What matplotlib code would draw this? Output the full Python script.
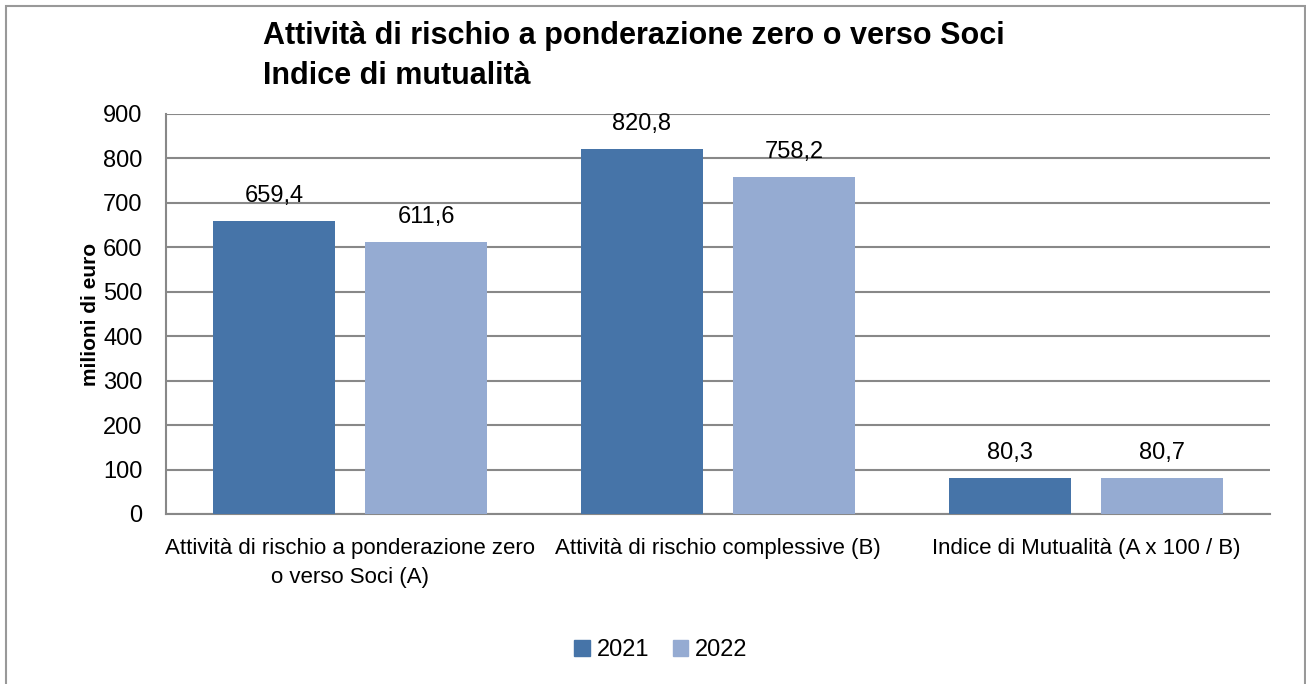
import matplotlib
matplotlib.use("Agg")
import matplotlib.pyplot as plt
from matplotlib.patches import Rectangle, Patch
import numpy as np

plt.rcParams['font.family'] = ['Liberation Sans', 'DejaVu Sans']

categories = ["Attività di rischio a ponderazione zero\no verso Soci (A)",
              "Attività di rischio complessive (B)",
              "Indice di Mutualità (A x 100 / B)"]
series_names = ["2021", "2022"]
values_2021 = [659.4, 820.8, 80.3]
values_2022 = [611.6, 758.2, 80.7]
labels_2021 = ["659,4", "820,8", "80,3"]
labels_2022 = ["611,6", "758,2", "80,7"]
yticks = [0, 100, 200, 300, 400, 500, 600, 700, 800, 900]

c1 = "#4674A8"
c2 = "#95ABD2"
grid_c = "#888888"

W, H = 1306, 684
fig = plt.figure(figsize=(W / 100, H / 100), dpi=100)
ax = fig.add_axes([166 / W, 1 - 514 / H, 1104 / W, 400 / H])

x = np.arange(len(categories))
bw = 0.33
off = 0.207
b1 = ax.bar(x - off, values_2021, bw, color=c1, zorder=3)
b2 = ax.bar(x + off, values_2022, bw, color=c2, zorder=3)

for rect, lab in zip(b1, labels_2021):
    ax.annotate(lab, (rect.get_x() + rect.get_width() / 2, rect.get_height()),
                xytext=(0, 10), textcoords="offset points", ha="center", va="bottom", fontsize=17)
for rect, lab in zip(b2, labels_2022):
    ax.annotate(lab, (rect.get_x() + rect.get_width() / 2, rect.get_height()),
                xytext=(0, 10), textcoords="offset points", ha="center", va="bottom", fontsize=17)

ax.set_xlim(-0.5, 2.5)
ax.set_ylim(0, 900)
ax.set_yticks(yticks)
ax.set_yticklabels([str(v) for v in yticks], fontsize=17)
ax.set_xticks(x)
ax.set_xticklabels(categories, fontsize=16, linespacing=1.55)
ax.tick_params(axis="x", length=0, pad=17)
ax.tick_params(axis="y", length=0, pad=17)
ax.yaxis.grid(True, color=grid_c, linewidth=1.5, zorder=0)
for s in ["top", "right"]:
    ax.spines[s].set_visible(False)
for s in ["left", "bottom"]:
    ax.spines[s].set_color(grid_c)
    ax.spines[s].set_linewidth(1.5)

ax.set_ylabel("milioni di euro", fontsize=15, fontweight="bold", labelpad=2)

fig.text(263 / W, 1 - 21 / H, "Attività di rischio a ponderazione zero o verso Soci\nIndice di mutualità",
         fontsize=22, fontweight="bold", ha="left", va="top", linespacing=1.45)

handles = [Patch(color=c1, label=series_names[0]), Patch(color=c2, label=series_names[1])]
fig.legend(handles=handles, loc="center", bbox_to_anchor=(661 / W, 1 - 650 / H), ncol=2,
           frameon=False, fontsize=17, handlelength=0.65, handleheight=0.65, handletextpad=0.3,
           columnspacing=1.0)

fig.patches.append(Rectangle((6 / W, -0.05), (1305 - 6) / W, 1.05 - 6 / H, transform=fig.transFigure,
                             fill=False, edgecolor="#999999", linewidth=1.5))

fig.savefig("out.png", dpi=100)
